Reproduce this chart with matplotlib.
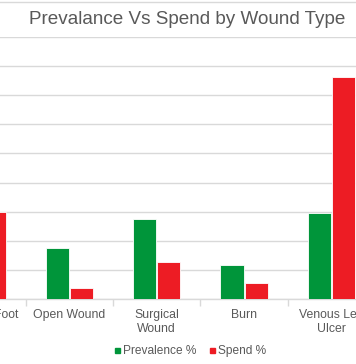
import matplotlib.pyplot as plt
import numpy as np
from matplotlib.lines import Line2D

# data (chart is cropped at both sides)
categories = ["Diabetic Foot", "Open Wound", "Surgical\nWound", "Burn", "Venous Leg\nUlcer"]
prevalence = [14.0, 8.7, 13.7, 5.8, 14.8]
spend = [15.0, 1.9, 6.3, 2.7, 38.2]

green = "#00953A"
red = "#ED1C24"
grey_txt = "#595959"
grid_col = "#D9D9D9"

plt.rcParams['font.family'] = ['Liberation Sans', 'DejaVu Sans']

fig = plt.figure(figsize=(3.56, 3.64), dpi=100)
# axes wider than the figure so the outer categories get cut off
ax = fig.add_axes([-61.75 / 356, 65 / 364, 437 / 356, 262 / 364])

x = np.arange(len(categories))
w = 0.265
ax.bar(x - w / 2 - 0.006, prevalence, width=w, color=green, edgecolor="white", linewidth=0.6, zorder=3)
ax.bar(x + w / 2 + 0.006, spend, width=w, color=red, edgecolor="white", linewidth=0.6, zorder=3)

ax.set_xlim(-0.5, len(categories) - 0.5)
ax.set_ylim(0, 45)
ax.set_yticks(np.arange(0, 46, 5))
ax.yaxis.grid(True, color=grid_col, linewidth=1.0, zorder=0)
ax.tick_params(axis='y', left=False, labelleft=False)

ax.set_xticks(x)
ax.set_xticklabels(categories, color=grey_txt, fontsize=8.8, linespacing=1.25)
ax.tick_params(axis='x', length=0, pad=7)
ax.set_xticks(np.arange(-0.5, len(categories), 1), minor=True)
ax.tick_params(axis='x', which='minor', length=5, color=grid_col, width=1.0)

for s in ["top", "left", "right"]:
    ax.spines[s].set_visible(False)
ax.spines["bottom"].set_color(grid_col)
ax.spines["bottom"].set_linewidth(1.0)

fig.text(187 / 356, 1 - 20 / 364, "Prevalance Vs Spend by Wound Type", ha="center", va="center",
         color=grey_txt, fontsize=13.6)

# thin border line at the very top
fig.add_artist(Line2D([0, 1], [1 - 1.5 / 364, 1 - 1.5 / 364], color=grid_col, linewidth=1.0))

handles = [Line2D([], [], marker="s", color=green, linestyle="none", markersize=3.6),
           Line2D([], [], marker="s", color=red, linestyle="none", markersize=3.6)]
fig.legend(handles, ["Prevalence %", "Spend %"], loc="center", bbox_to_anchor=(190 / 356, 1 - 351 / 364),
           ncol=2, frameon=False, fontsize=8.6, handlelength=0.5, handletextpad=0.3, columnspacing=1.0,
           labelcolor=grey_txt)

fig.savefig("out.png", dpi=100)
